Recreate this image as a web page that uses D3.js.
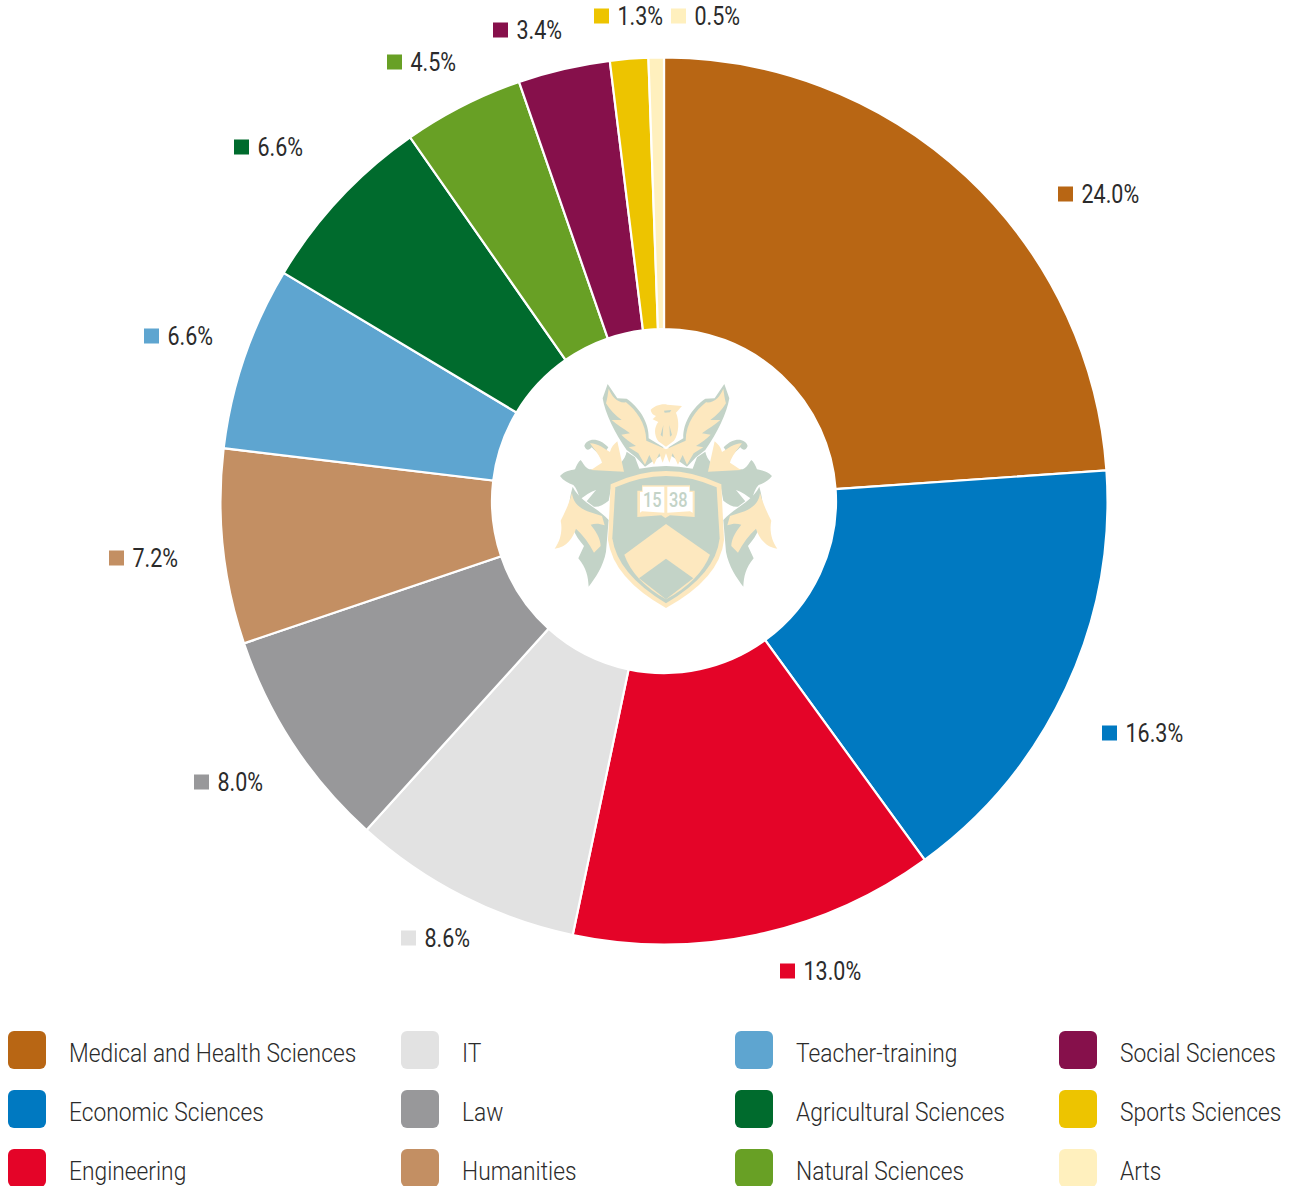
<!DOCTYPE html>
<html><head><meta charset="utf-8">
<script src="https://cdn.jsdelivr.net/npm/d3@7"></script>
<style>html,body{margin:0;padding:0;background:#fff}svg{display:block}
text{font-family:Roboto,sans-serif;fill:#2b2b2b}</style></head>
<body><div id="chart"></div>
<script>
const categories=["Medical and Health Sciences","Economic Sciences","Engineering","IT","Law","Humanities","Teacher-training","Agricultural Sciences","Natural Sciences","Social Sciences","Sports Sciences","Arts"];
// printed percentages
const shares=[24.0,16.3,13.0,8.6,8.0,7.2,6.6,6.6,4.5,3.4,1.3,0.5];
const sliceShares=[23.9,16.1,13.3,8.4,8.1,7.1,6.7,6.7,4.4,3.35,1.39,0.56];
const colors=["#B86614","#0079C1","#E40428","#E2E2E2","#98989A","#C38F63","#5EA5D0","#006B2D","#68A025","#86104B","#EDC400","#FFF0BE"];
// layout only
const labelX=[1058,1102,780,401,194,109,144,234,387,493,594,671];
const labelY=[194,733,971,938,782,558,336,147,62,30,16,16];
const legendCols=[8,401,735,1059];
const legendRows=[1031,1090,1149];
const W=1295,H=1186,cx=664,cy=501,R=443.5,r=172;
const svg=d3.select("#chart").append("svg").attr("width",W).attr("height",H).attr("viewBox",`0 0 ${W} ${H}`);
const pie=d3.pie().sort(null).value(d=>d);
const arc=d3.arc().innerRadius(r).outerRadius(R);
svg.append("g").attr("transform",`translate(${cx},${cy})`).selectAll("path").data(pie(sliceShares)).join("path")
 .attr("d",arc).attr("fill",(d,i)=>colors[i]).attr("stroke","#fff").attr("stroke-width",2.2);
// percent labels
const lab=svg.append("g").selectAll("g").data(shares).join("g").attr("transform",(d,i)=>`translate(${labelX[i]},${labelY[i]})`);
lab.append("rect").attr("x",0).attr("y",-7.5).attr("width",15).attr("height",15).attr("fill",(d,i)=>colors[i]);
lab.append("text").attr("transform","translate(23.5,9) scale(0.86,1)").attr("font-size",25).text(d=>d.toFixed(1)+"%");
// legend
const leg=svg.append("g").selectAll("g").data(categories).join("g")
 .attr("transform",(d,i)=>`translate(${legendCols[Math.floor(i/3)]},${legendRows[i%3]})`);
leg.append("rect").attr("width",38).attr("height",38).attr("rx",6).attr("fill",(d,i)=>colors[i]);
leg.append("text").attr("transform","translate(61,30.5) scale(0.86,1)").attr("font-size",26.5).attr("font-weight",300).text(d=>d);
// crest (emblem in the hole)
const G="#C3D3C7",C="#FDE8BF";
const crest=svg.append("g").attr("transform","translate(530,370) scale(0.3333)");
function side(g){
 // green foliage
 g.append("path").attr("fill",G).attr("d","M90,318 C105,302 122,302 135,298 C140,285 145,275 152,270 C160,280 165,292 178,298 L240,300 C265,290 285,270 290,245 L315,262 L328,296 Q370,288 408,288 L408,345 L245,345 L236,392 C220,405 205,412 192,410 L170,394 L198,360 C180,365 165,378 150,388 C145,370 140,355 130,345 C115,340 100,332 90,318 Z");
 g.append("path").attr("fill",G).attr("d","M128,350 C150,395 205,415 236,450 L228,545 C220,590 195,625 176,650 C174,620 170,595 145,565 L162,528 C120,480 105,430 128,350 Z");
 // lower cream leaf
 g.append("path").attr("fill",C).attr("d","M126,368 C128,395 145,412 172,424 L216,438 L224,466 C208,460 195,460 182,464 C195,480 212,505 212,528 L192,548 C178,520 158,495 138,476 C130,500 112,532 74,536 C92,512 98,480 92,452 C105,428 118,398 126,368 Z");
 // upper leaf with curl
 g.append("path").attr("fill",G).attr("d","M163,228 C170,205 205,200 235,232 L215,262 C205,250 195,242 185,232 C178,240 170,245 163,228 Z");
 g.append("path").attr("fill",C).attr("d","M180,220 C205,220 225,238 240,246 C243,232 252,222 262,214 L282,305 L182,300 C195,292 205,285 216,278 C210,258 195,240 180,220 Z");
 // wing outline and feathers
 g.append("path").attr("fill",G).attr("d","M233,42 L262,85 L290,86 C325,110 358,155 356,205 L400,232 L400,252 L345,290 L318,262 L290,240 C255,190 225,130 218,85 Z");
 g.append("path").attr("fill",C).attr("d","M236,56 C245,78 262,100 288,97 C318,120 348,160 349,212 L408,238 L408,250 L398,278 L388,250 L372,284 L358,255 L345,284 L325,250 L296,232 L318,228 C298,215 285,205 274,194 L300,190 C280,175 262,165 245,150 L275,150 C255,135 240,120 228,100 C232,85 234,70 236,56 Z");
}
side(crest.append("g"));
side(crest.append("g").attr("transform","translate(816,0) scale(-1,1)"));
// griffin head and body
crest.append("path").attr("fill",C).attr("d","M362,120 C372,108 395,100 412,104 L456,108 L438,128 C448,150 448,190 432,212 L408,230 L385,214 C372,195 372,172 385,156 L368,148 L378,138 C368,135 364,128 362,120 Z");
crest.append("path").attr("fill",G).attr("d","M402,122 L424,120 L420,127 L404,128 Z M400,165 L392,195 L398,200 Z M418,165 L426,195 L420,200 Z");
// shield
crest.append("path").attr("fill",C).attr("d","M242,343 Q408,263 574,343 L582,510 Q570,625 408,714 Q250,625 234,510 Z");
crest.append("path").attr("fill",G).attr("d","M256,352 Q408,284 560,352 L569,505 Q558,612 408,700 Q262,612 247,505 Z");
crest.append("path").attr("fill",C).attr("d","M408,462 L540,554 Q510,632 408,688 Q310,632 283,554 Z");
crest.append("path").attr("fill",G).attr("d","M408,566 L490,625 L408,688 L327,625 Z");
// open book
crest.append("path").attr("fill",C).attr("d","M322,362 L336,362 L336,346 L480,346 L480,362 L494,362 L494,441 L420,436 L406,444 L394,436 L322,441 Z");
crest.append("path").attr("fill","#fff").attr("d","M338,350 L403,350 L403,428 L336,424 L330,428 L330,366 L338,366 Z M412,350 L478,350 L478,366 L488,366 L488,428 L480,424 L412,428 Z");
crest.append("text").attr("transform","translate(367,411) scale(0.78,1)").attr("text-anchor","middle").attr("font-size",63).attr("font-weight",500).style("fill",G).text("15");
crest.append("text").attr("transform","translate(445,411) scale(0.78,1)").attr("text-anchor","middle").attr("font-size",63).attr("font-weight",500).style("fill",G).text("38");
</script></body></html>
